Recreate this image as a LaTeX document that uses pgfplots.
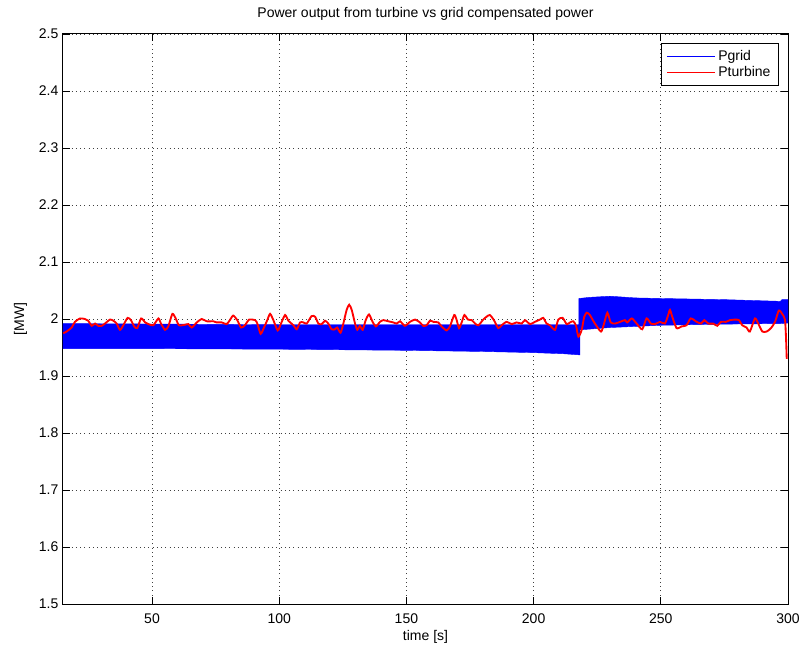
\documentclass[border=0pt]{standalone}
\usepackage{fontspec}
\setmainfont{Liberation Sans}
\usepackage{pgfplots}
\pgfplotsset{compat=1.18}

\begin{document}
\begin{tikzpicture}
\begin{axis}[
    scale only axis,
    width=543.75pt, height=427.5pt,
    xmin=15, xmax=300,
    ymin=1.5, ymax=2.5,
    xtick={50,100,150,200,250,300},
    ytick={1.5,1.6,1.7,1.8,1.9,2,2.1,2.2,2.3,2.4,2.5},
    tick align=inside,
    major tick length=5pt,
    tick style={black, line width=0.6pt},
    axis line style={black, line width=0.75pt},
    grid=major,
    major grid style={black!75, line width=0.6pt, dash pattern=on 0.6pt off 2.6pt},
    /pgf/number format/assume math mode=true,
    font=\fontsize{10.5}{12}\selectfont,
    ticklabel style={font=\fontsize{10.5}{12}\selectfont},
    xticklabel shift=4pt,
    title={Power output from turbine vs grid compensated power},
    title style={yshift=1pt},
    xlabel={time [s]},
    xlabel style={yshift=2pt},
    ylabel={[MW]},
    ylabel style={yshift=2pt},
    legend cell align=left,
    legend style={at={(0.9876,0.984)}, anchor=north east,
        thick, font=\fontsize{10.5}{12}\selectfont,
        inner xsep=4pt, inner ysep=3pt, row sep=-1pt},
]
\coordinate (ll) at (rel axis cs:0,0);
\coordinate (ur) at (rel axis cs:1,1);

% Pgrid: fast oscillation drawn as its envelope
\addplot[draw=blue, fill=blue, line width=0.3pt, forget plot] coordinates {
    (15,1.992) (60,1.991) (100,1.990) (150,1.990) (200,1.990) (217.8,1.990)
    (217.8,2.036) (222,2.038) (230,2.040) (240,2.037) (250,2.036)
    (275,2.034) (297,2.031) (297.6,2.034) (300,2.034)
    (300,1.993) (297,1.992) (275,1.991) (250,1.989) (230,1.985) (218.2,1.981)
    (218.2,1.937) (212,1.939) (200,1.941) (180,1.943) (150,1.945)
    (100,1.947) (50,1.948) (15,1.948)
} -- cycle;

% Pturbine
\addplot[red, line width=1.4pt, smooth, tension=0.4, forget plot] coordinates {
    (15.1,1.975) (16.4,1.978) (18.4,1.985) (19.7,1.995) (21.7,2.001) (23.6,2.000)
    (24.9,1.997) (26.3,1.988) (27.6,1.992) (28.9,1.988) (30.2,1.988) (31.5,1.992)
    (33.5,1.999) (34.8,1.997) (36.1,1.992) (37.4,1.981) (38.7,1.989) (40.4,2.002)
    (41.7,1.998) (43.0,1.987) (44.2,1.984) (45.7,2.001) (47.3,1.994) (48.6,1.991)
    (50.5,1.989) (52.5,2.001) (53.5,1.992) (55.1,1.981) (56.4,1.987) (58.0,2.009)
    (59.3,2.001) (60.6,1.989) (63.0,1.990) (64.3,1.991) (65.6,1.985) (67.6,1.994)
    (69.5,2.000) (71.5,1.996) (74.1,1.996) (75.4,1.994) (77.4,1.994) (79.3,1.991)
    (80.6,1.998) (81.9,2.006) (83.5,1.998) (85.0,1.985) (86.5,1.989) (88.2,1.999)
    (90.5,1.998) (91.4,1.992) (92.7,1.974) (94.0,1.985) (95.3,1.998) (96.4,2.009)
    (97.7,1.998) (99.4,1.980) (100.7,1.992) (102.3,2.007) (103.6,1.997) (105.6,1.989)
    (106.9,1.982) (108.2,1.994) (109.5,1.994) (110.8,1.992) (112.7,2.005) (114.1,2.004)
    (115.4,1.992) (116.7,1.991) (118.0,1.997) (119.3,1.992) (120.6,1.982) (121.9,1.982)
    (122.8,1.985) (124.1,1.976) (125.2,1.992) (126.5,2.016) (127.5,2.025) (128.5,2.016)
    (129.8,1.992) (130.7,1.981) (131.7,1.988) (132.8,1.981) (134.0,1.998) (135.3,2.008)
    (136.7,1.995) (138.0,1.987) (139.6,1.995) (140.9,1.998) (142.9,1.996) (144.8,1.994)
    (146.2,1.992) (147.5,1.996) (149.4,1.988) (151.4,1.995) (153.4,1.999) (155.3,1.994)
    (156.6,1.988) (157.9,1.989) (159.3,1.997) (160.6,1.995) (162.5,1.994) (163.8,1.987)
    (165.8,1.980) (167.1,1.987) (168.8,2.007) (169.7,1.999) (170.7,1.984) (171.8,1.995)
    (172.8,2.007) (174.2,1.999) (175.7,1.998) (177.0,1.992) (178.3,1.989) (180.2,1.999)
    (181.5,2.004) (182.8,2.007) (184.4,1.998) (186.1,1.984) (187.4,1.989) (189.4,1.995)
    (191.4,1.991) (193.3,1.994) (195.3,1.992) (196.6,1.998) (198.6,1.991) (200.5,1.995)
    (202.5,1.999) (203.8,2.002) (205.1,1.992) (206.4,1.989) (208.4,1.981) (209.7,1.999)
    (211.4,2.002) (213.0,1.991) (214.3,1.994) (215.6,1.996) (216.7,1.988) (217.6,1.969)
    (218.9,1.981) (219.9,2.004) (220.9,2.011) (222.1,2.007) (224.1,1.992) (226.5,1.978)
    (227.7,1.992) (229.0,2.011) (230.3,1.994) (232.0,1.992) (234.0,1.995) (235.9,1.998)
    (236.8,1.994) (238.6,2.001) (240.5,1.992) (242.7,1.982) (244.4,2.001) (246.1,1.992)
    (247.7,1.991) (249.7,1.995) (251.6,1.992) (252.9,2.007) (253.6,2.016) (254.5,2.004)
    (256.2,1.984) (258.2,1.987) (260.1,1.989) (261.8,2.001) (264.1,1.995) (265.8,1.992)
    (267.1,1.998) (268.7,1.992) (270.6,1.992) (272.2,1.988) (273.6,1.995) (275.6,1.995)
    (277.2,1.998) (279.2,1.999) (280.7,1.998) (282.0,1.989) (283.7,1.985) (285.0,1.978)
    (287.0,2.001) (288.3,1.992) (289.9,1.978) (291.6,1.978) (293.3,1.984) (294.9,1.995)
    (296.4,2.015) (297.7,2.009) (298.8,1.999) (299.2,1.969) (299.5,1.930)
};

\addlegendimage{legend image code/.code={\draw[blue, line width=0.6pt] (0pt,0pt) -- (36pt,0pt);}}
\addlegendentry{Pgrid}
\addlegendimage{legend image code/.code={\draw[red, line width=0.6pt] (0pt,0pt) -- (36pt,0pt);}}
\addlegendentry{Pturbine}
\end{axis}
\pgfresetboundingbox
\path ([xshift=-47.25pt, yshift=-32.25pt]ll) rectangle ([xshift=9.75pt, yshift=25.5pt]ur);
\end{tikzpicture}
\end{document}
